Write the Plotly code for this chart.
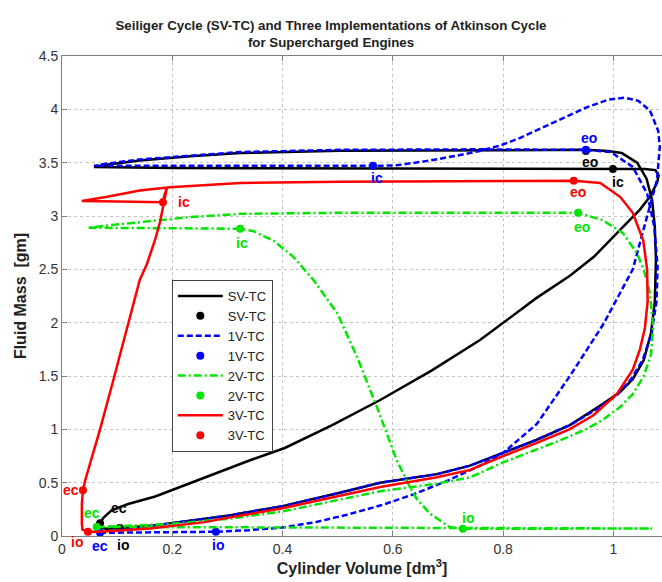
import plotly.graph_objects as go

# ---------------- data ----------------
# SV-TC (Seiliger) cycle path
sv_x = [0.069, 0.075, 0.09, 0.12, 0.169, 0.259, 0.341, 0.404, 0.49, 0.577, 0.67, 0.758, 0.8, 0.86, 0.921,
        0.965, 1.012, 1.048, 1.066, 1.079, 1.082, 1.076, 1.057, 0.999, 0.6, 0.2, 0.085, 0.058,
        0.08, 0.141, 0.233, 0.323, 0.504, 0.8, 0.95, 0.99, 1.015, 1.043, 1.06, 1.07, 1.075, 1.077,
        1.075, 1.068, 1.055, 1.035, 1.012, 0.981, 0.921, 0.86, 0.8, 0.74, 0.68, 0.577, 0.5, 0.4,
        0.3, 0.2, 0.16, 0.105, 0.08, 0.067, 0.069]
sv_y = [0.12, 0.17, 0.24, 0.3, 0.37, 0.55, 0.71, 0.825, 1.04, 1.275, 1.55, 1.837, 2.0, 2.23, 2.44,
        2.62, 2.87, 3.06, 3.18, 3.31, 3.38, 3.43, 3.44, 3.44, 3.445, 3.45, 3.455, 3.46,
        3.48, 3.52, 3.56, 3.59, 3.612, 3.62, 3.62, 3.61, 3.59, 3.5, 3.35, 3.15, 2.9, 2.59,
        2.2, 1.9, 1.65, 1.47, 1.35, 1.24, 1.04, 0.9, 0.78, 0.66, 0.58, 0.5, 0.4, 0.28,
        0.19, 0.12, 0.095, 0.075, 0.068, 0.08, 0.12]
sv_evt = ["ec", "io", "ic", "eo"]
sv_evt_x = [0.069, 0.105, 0.999, 0.95]
sv_evt_y = [0.12, 0.075, 3.44, 3.61]

# 1V-TC (Atkinson, late intake closing)
v1_x = [0.069, 0.15, 0.279, 0.34, 0.4, 0.46, 0.517, 0.58, 0.637, 0.7, 0.758, 0.8, 0.861, 0.921, 0.981,
        1.035, 1.061, 1.079, 1.084, 1.081, 1.066, 1.045, 1.02, 0.99, 0.952, 0.89, 0.83, 0.794, 0.758,
        0.72, 0.667, 0.607, 0.564, 0.3, 0.1, 0.058, 0.08, 0.141, 0.323, 0.504, 0.75, 0.95, 0.995,
        1.035, 1.061, 1.074, 1.08, 1.078, 1.069, 1.053, 1.032, 1.006, 0.97, 0.921, 0.86, 0.8, 0.74,
        0.68, 0.577, 0.5, 0.4, 0.3, 0.2, 0.14, 0.1, 0.069]
v1_y = [0.03, 0.032, 0.04, 0.055, 0.08, 0.13, 0.2, 0.29, 0.39, 0.52, 0.66, 0.78, 1.05, 1.5, 1.98,
        2.5, 3.0, 3.34, 3.65, 3.8, 3.99, 4.08, 4.11, 4.09, 4.02, 3.87, 3.73, 3.66, 3.61,
        3.57, 3.52, 3.475, 3.47, 3.47, 3.47, 3.47, 3.49, 3.53, 3.6, 3.62, 3.625, 3.62, 3.6,
        3.46, 3.21, 2.9, 2.52, 2.2, 1.9, 1.65, 1.47, 1.32, 1.19, 1.04, 0.9, 0.78, 0.66,
        0.58, 0.5, 0.4, 0.28, 0.19, 0.12, 0.08, 0.05, 0.03]
v1_evt = ["ec", "io", "ic", "eo"]
v1_evt_x = [0.069, 0.279, 0.564, 0.95]
v1_evt_y = [0.03, 0.04, 3.47, 3.62]

# 2V-TC (Atkinson, late intake opening)
v2_x = [0.063, 0.3, 0.7, 1.07, 0.727, 0.703, 0.667, 0.643, 0.631, 0.607, 0.571, 0.535, 0.499, 0.456,
        0.419, 0.383, 0.346, 0.323, 0.2, 0.047, 0.09, 0.141, 0.232, 0.323, 0.5, 0.8, 0.936, 0.981,
        1.017, 1.043, 1.057, 1.066, 1.072, 1.068, 1.055, 1.035, 1.012, 0.981, 0.95, 0.9, 0.861,
        0.8, 0.74, 0.68, 0.577, 0.5, 0.4, 0.3, 0.2, 0.14, 0.1, 0.063]
v2_y = [0.085, 0.08, 0.072, 0.07, 0.068, 0.085, 0.21, 0.35, 0.46, 0.71, 1.21, 1.68, 2.09, 2.4,
        2.62, 2.77, 2.86, 2.88, 2.885, 2.89, 2.915, 2.94, 2.99, 3.02, 3.03, 3.03, 3.03, 2.96,
        2.84, 2.65, 2.46, 2.28, 1.96, 1.7, 1.5, 1.33, 1.21, 1.09, 1.0, 0.89, 0.81,
        0.69, 0.55, 0.49, 0.42, 0.34, 0.23, 0.16, 0.115, 0.1, 0.09, 0.085]
v2_evt = ["ec", "io", "ic", "eo"]
v2_evt_x = [0.063, 0.727, 0.323, 0.936]
v2_evt_y = [0.085, 0.068, 2.88, 3.03]

# 3V-TC (Atkinson, early intake closing)
v3_x = [0.047, 0.037, 0.036, 0.036, 0.038, 0.042, 0.051, 0.069, 0.093, 0.11, 0.128, 0.141, 0.154,
        0.169, 0.178, 0.19, 0.186, 0.183, 0.1, 0.036, 0.082, 0.141, 0.196, 0.323, 0.504, 0.8, 0.928,
        0.976, 1.012, 1.035, 1.054, 1.061, 1.062, 1.057, 1.048, 1.035, 1.006, 0.963, 0.92, 0.86,
        0.8, 0.74, 0.68, 0.577, 0.5, 0.4, 0.3, 0.259, 0.16, 0.1, 0.069, 0.047]
v3_y = [0.04, 0.06, 0.12, 0.3, 0.43, 0.52, 0.68, 1.0, 1.46, 1.8, 2.15, 2.4, 2.55,
        2.78, 2.95, 3.26, 3.2, 3.13, 3.135, 3.14, 3.18, 3.24, 3.27, 3.31, 3.32, 3.33, 3.33,
        3.31, 3.18, 3.03, 2.77, 2.5, 2.2, 1.95, 1.75, 1.56, 1.33, 1.13, 1.0, 0.87,
        0.75, 0.62, 0.55, 0.46, 0.37, 0.26, 0.17, 0.13, 0.07, 0.05, 0.04, 0.04]
v3_evt = ["io", "ec", "ic", "eo"]
v3_evt_x = [0.047, 0.038, 0.183, 0.928]
v3_evt_y = [0.04, 0.43, 3.13, 3.33]

x_ticks = [0, 0.2, 0.4, 0.6, 0.8, 1]
x_tick_text = ["0", "0.2", "0.4", "0.6", "0.8", "1"]
y_ticks = [0, 0.5, 1, 1.5, 2, 2.5, 3, 3.5, 4, 4.5]
y_tick_text = ["0", "0.5", "1", "1.5", "2", "2.5", "3", "3.5", "4", "4.5"]

# ---------------- styles ----------------
FONT = "Liberation Sans, Arial, sans-serif"
series = [
    ("SV-TC", sv_x, sv_y, sv_evt, sv_evt_x, sv_evt_y, "#000000", "solid"),
    ("1V-TC", v1_x, v1_y, v1_evt, v1_evt_x, v1_evt_y, "#0000ff", "6px,3px"),
    ("2V-TC", v2_x, v2_y, v2_evt, v2_evt_x, v2_evt_y, "#00e600", "8px,3px,2px,3px"),
    ("3V-TC", v3_x, v3_y, v3_evt, v3_evt_x, v3_evt_y, "#ff0000", "solid"),
]
# label pixel offsets (xshift, yshift) per series/event
label_offsets = {
    "SV-TC": {"ec": (19, 15), "io": (3, -17), "ic": (5, -13), "eo": (4, -11)},
    "1V-TC": {"ec": (0, -13), "io": (2, -13), "ic": (4, -12), "eo": (3, 12)},
    "2V-TC": {"ec": (-5, 14), "io": (5, 11), "ic": (2, -14), "eo": (4, -14)},
    "3V-TC": {"io": (-11, -10), "ec": (-12, 0), "ic": (21, 0), "eo": (4, -11)},
}

fig = go.Figure()
annotations = []
for name, xs, ys, evt, ex, ey, col, dash in series:
    fig.add_trace(go.Scatter(x=xs, y=ys, mode="lines", name=name,
                             line=dict(color=col, width=2.5, dash=dash)))
    fig.add_trace(go.Scatter(x=ex, y=ey, mode="markers", name=name,
                             marker=dict(color=col, size=8)))
    for lab, px_, py_ in zip(evt, ex, ey):
        dx, dy = label_offsets[name][lab]
        annotations.append(dict(x=px_, y=py_, text="<b>" + lab + "</b>", showarrow=False,
                                xshift=dx, yshift=dy,
                                font=dict(family=FONT, size=14, color=col)))

axis_common = dict(showgrid=True, gridcolor="#c4c4c4", griddash="dot", gridwidth=1,
                   showline=True, linecolor="#808080", linewidth=1,
                   ticks="inside", ticklen=5, tickcolor="#808080",
                   tickfont=dict(family=FONT, size=14, color="#333333"),
                   zeroline=False)

fig.update_layout(
    width=662, height=582,
    margin=dict(l=62, r=0, t=56, b=46),
    paper_bgcolor="white", plot_bgcolor="white",
    title=dict(text="<b>Seiliger Cycle (SV-TC) and Three Implementations of Atkinson Cycle<br>for Supercharged Engines</b>",
               x=0.5, xanchor="center", yref="container", y=1 - 30 / 582, yanchor="middle",
               font=dict(family=FONT, size=13.3, color="#222222")),
    xaxis=dict(range=[0, 1.088], tickvals=x_ticks, ticktext=x_tick_text, mirror="ticks",
               title=dict(text="<b>Cylinder Volume [dm<sup>3</sup>]</b>", standoff=4,
                          font=dict(family=FONT, size=16, color="#222222")),
               **axis_common),
    yaxis=dict(range=[0, 4.5], tickvals=y_ticks, ticktext=y_tick_text,
               title=dict(text="<b>Fluid Mass&nbsp; [gm]</b>", standoff=8,
                          font=dict(family=FONT, size=16, color="#222222")),
               **axis_common),
    legend=dict(x=0.183, y=0.5333, xanchor="left", yanchor="top",
                bgcolor="white", bordercolor="#444444", borderwidth=1,
                font=dict(family=FONT, size=13, color="#222222"),
                tracegroupgap=0, itemwidth=45),
    annotations=annotations,
    showlegend=True,
)

fig.write_html("out.html")
